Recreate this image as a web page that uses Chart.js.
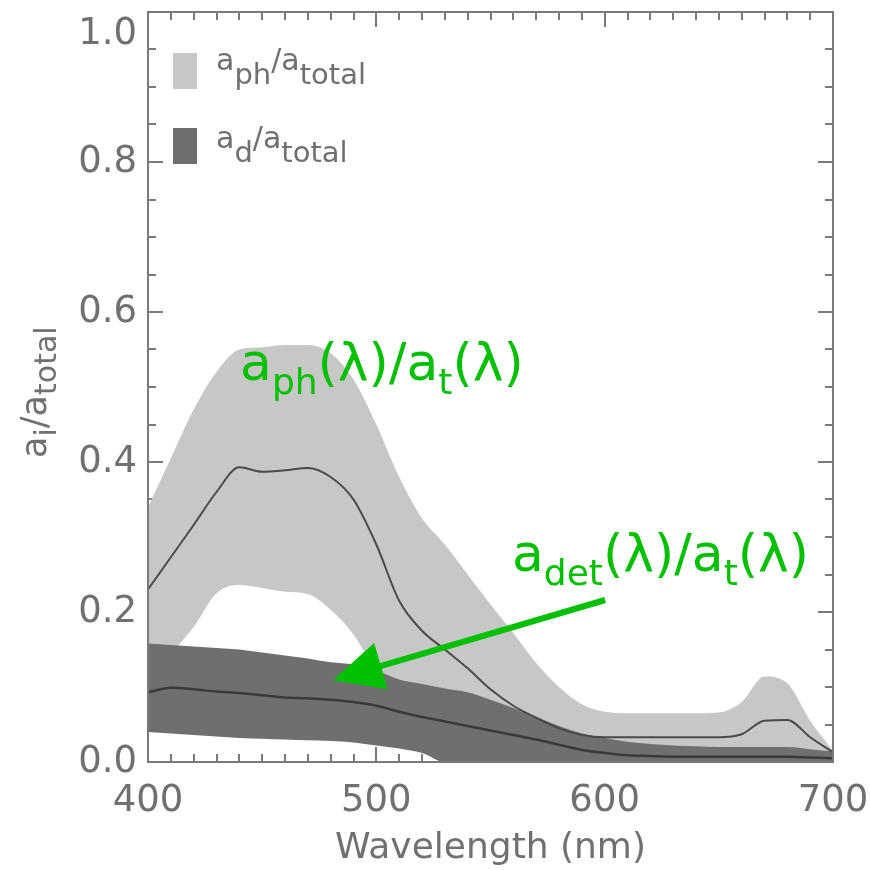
<!DOCTYPE html>
<html><head><meta charset="utf-8">
<script src="https://cdn.jsdelivr.net/npm/chart.js@4/dist/chart.umd.min.js"></script>
<style>html,body{margin:0;padding:0;background:#fff}#wrap{width:870px;height:870px}</style>
</head><body><div id="wrap"><canvas id="c" width="870" height="870"></canvas></div>
<script>
// ---- data ----
const wavelength = [400,410,420,430,440,450,460,470,480,490,500,510,520,530,540,550,560,570,580,590,600,610,620,630,640,650,660,670,680,690,700];
const phUpper  = [0.34,0.405,0.47,0.52,0.55,0.553,0.556,0.556,0.545,0.51,0.45,0.38,0.325,0.29,0.25,0.21,0.172,0.132,0.10,0.077,0.067,0.065,0.065,0.065,0.065,0.066,0.08,0.114,0.105,0.055,0.015];
const phLower  = [0.12,0.145,0.18,0.225,0.236,0.232,0.227,0.224,0.203,0.17,0.12,0.08,0.05,0.03,0.02,0.01,0.005,0,0,0,0,0,0,0,0,0,0,0,0,0,0];
const phMean   = [0.23,0.273,0.316,0.36,0.393,0.387,0.389,0.392,0.38,0.35,0.29,0.215,0.175,0.15,0.125,0.097,0.075,0.059,0.045,0.036,0.033,0.033,0.033,0.033,0.033,0.033,0.037,0.055,0.056,0.033,0.013];
const detUpper = [0.158,0.156,0.154,0.152,0.15,0.146,0.142,0.138,0.133,0.13,0.122,0.11,0.104,0.098,0.093,0.083,0.072,0.06,0.048,0.038,0.032,0.027,0.024,0.022,0.021,0.02,0.02,0.02,0.02,0.017,0.014];
const detLower = [0.04,0.038,0.036,0.034,0.032,0.031,0.03,0.029,0.028,0.026,0.022,0.018,0.012,0,0,0,0,0,0,0,0,0,0,0,0,0,0,0,0,0,0];
const detMean  = [0.093,0.099,0.097,0.094,0.092,0.089,0.086,0.085,0.083,0.08,0.075,0.067,0.06,0.054,0.048,0.042,0.036,0.03,0.023,0.016,0.012,0.009,0.008,0.007,0.007,0.007,0.007,0.007,0.007,0.006,0.005];
const xTickValues = [400,500,600,700];
const xTickLabels = ['400','500','600','700'];
const yTickValues = [0,0.2,0.4,0.6,0.8,1.0];
const yTickLabels = ['0.0','0.2','0.4','0.6','0.8','1.0'];
const xTitle = 'Wavelength (nm)';
const yTitleParts = [['a',0],['i',1],['/',0],['a',0],['total',1]];
const legendPh = [['a',0],['ph',1],['/',0],['a',0],['total',1]];
const legendDet = [['a',0],['d',1],['/',0],['a',0],['total',1]];
const annotPh = [['a',0],['ph',1],['(λ)/a',0],['t',1],['(λ)',0]];
const annotDet = [['a',0],['det',1],['(λ)/a',0],['t',1],['(λ)',0]];

const pts = arr => arr.map((v,i)=>({x: wavelength[i], y: v}));

const LIGHT = '#c7c7c7', DARK = '#6f6f6f', AXIS = '#7a7a7a', TXT = '#707070', GREEN = '#00c000';
const FONT = 'DejaVu Sans';

function drawParts(ctx, parts, x, y, mainSize, subSize, subDy){
  let cx = x;
  for (const [t, sub] of parts){
    ctx.font = (sub ? subSize : mainSize) + 'px "' + FONT + '"';
    ctx.fillText(t, cx, y + (sub ? subDy : 0));
    cx += ctx.measureText(t).width;
  }
  return cx;
}

const ticksPlugin = {
  id: 'frameTicks',
  beforeDatasetsDraw(chart){
    const {ctx, chartArea: a, scales: {x, y}} = chart;
    ctx.save();
    ctx.strokeStyle = AXIS; ctx.lineWidth = 2;
    ctx.beginPath();
    for (let v = 400; v <= 700; v += 10){
      const px = Math.round(x.getPixelForValue(v));
      const L = (v % 100 === 0) ? 15 : 8;
      ctx.moveTo(px, a.bottom); ctx.lineTo(px, a.bottom - L);
      ctx.moveTo(px, a.top); ctx.lineTo(px, a.top + L);
    }
    for (let i = 0; i <= 20; i++){
      const py = Math.round(y.getPixelForValue(i * 0.05));
      const L = (i % 4 === 0) ? 15 : 8;
      ctx.moveTo(a.left, py); ctx.lineTo(a.left + L, py);
      ctx.moveTo(a.right, py); ctx.lineTo(a.right - L, py);
    }
    ctx.stroke();
    ctx.restore();
  },
  afterDatasetsDraw(chart){
    const {ctx, chartArea: a} = chart;
    ctx.save();
    ctx.strokeStyle = AXIS; ctx.lineWidth = 2;
    ctx.strokeRect(a.left, a.top, a.right - a.left, a.bottom - a.top);
    ctx.restore();
  },
  afterDraw(chart){
    const {ctx, chartArea: a, scales: {x, y}} = chart;
    ctx.save();
    // legend
    ctx.fillStyle = LIGHT; ctx.fillRect(a.left + 25, a.top + 41, 24, 36);
    ctx.fillStyle = DARK;  ctx.fillRect(a.left + 25, a.top + 116, 24, 36);
    ctx.fillStyle = TXT; ctx.textBaseline = 'alphabetic'; ctx.textAlign = 'left';
    drawParts(ctx, legendPh, a.left + 68, a.top + 58, 30, 29, 14);
    drawParts(ctx, legendDet, a.left + 68, a.top + 136, 30, 29, 14);
    // y title (rotated)
    ctx.save();
    ctx.translate(46, 458);
    ctx.rotate(-Math.PI / 2);
    drawParts(ctx, yTitleParts, 0, 0, 35, 30, 10);
    ctx.restore();
    // green annotations
    ctx.fillStyle = GREEN;
    drawParts(ctx, annotPh, x.getPixelForValue(440.3), y.getPixelForValue(0.509), 52, 36, 14);
    drawParts(ctx, annotDet, x.getPixelForValue(559.4), y.getPixelForValue(0.255), 52, 36, 14);
    // arrow
    const x0 = x.getPixelForValue(600.2), y0 = y.getPixelForValue(0.216);
    const x1 = x.getPixelForValue(481), y1 = y.getPixelForValue(0.109);
    const dx = x1 - x0, dy = y1 - y0, len = Math.hypot(dx, dy);
    const ux = dx / len, uy = dy / len, head = 50, hw = 24;
    const bx = x1 - ux * head, by = y1 - uy * head;
    ctx.strokeStyle = GREEN; ctx.lineWidth = 6;
    ctx.beginPath(); ctx.moveTo(x0, y0); ctx.lineTo(bx + ux * 4, by + uy * 4); ctx.stroke();
    ctx.beginPath();
    ctx.moveTo(x1, y1);
    ctx.lineTo(bx - uy * hw, by + ux * hw);
    ctx.lineTo(bx + uy * hw, by - ux * hw);
    ctx.closePath(); ctx.fill();
    ctx.restore();
  }
};

const common = {pointRadius: 0, pointHoverRadius: 0, cubicInterpolationMode: 'monotone'};

new Chart(document.getElementById('c'), {
  type: 'line',
  data: {
    datasets: [
      {label: 'a_ph mean', data: pts(phMean), borderColor: '#4a4a4a', borderWidth: 2, fill: false, ...common},
      {label: 'a_det mean', data: pts(detMean), borderColor: '#3a3a3a', borderWidth: 2.5, fill: false, ...common},
      {label: 'a_det upper', data: pts(detUpper), borderWidth: 0, borderColor: 'rgba(0,0,0,0)', backgroundColor: DARK, fill: '+1', ...common},
      {label: 'a_det lower', data: pts(detLower), borderWidth: 0, borderColor: 'rgba(0,0,0,0)', fill: false, ...common},
      {label: 'a_ph upper', data: pts(phUpper), borderWidth: 0, borderColor: 'rgba(0,0,0,0)', backgroundColor: LIGHT, fill: '+1', ...common},
      {label: 'a_ph lower', data: pts(phLower), borderWidth: 0, borderColor: 'rgba(0,0,0,0)', fill: false, ...common}
    ]
  },
  options: {
    responsive: false,
    animation: false,
    devicePixelRatio: 1,
    layout: {padding: {top: 12, right: 37, bottom: 0, left: 0}},
    plugins: {legend: {display: false}, tooltip: {enabled: false}},
    scales: {
      x: {
        type: 'linear', min: 400, max: 700,
        afterBuildTicks: s => { s.ticks = xTickValues.map(v => ({value: v})); },
        afterFit: s => { s.height = 108; s.paddingLeft = 0; s.paddingRight = 0; },
        grid: {display: false, drawTicks: false},
        border: {display: false},
        ticks: {autoSkip: false, maxRotation: 0, padding: 17, color: TXT,
                font: {family: FONT, size: 37},
                callback: (v, i) => xTickLabels[i]},
        title: {display: true, text: xTitle, color: TXT, font: {family: FONT, size: 36}, padding: {top: 0, bottom: 0}}
      },
      y: {
        type: 'linear', min: 0, max: 1,
        afterBuildTicks: s => { s.ticks = yTickValues.map(v => ({value: v})); },
        afterFit: s => { s.width = 148; s.paddingTop = 0; s.paddingBottom = 0; },
        grid: {display: false, drawTicks: false},
        border: {display: false},
        ticks: {padding: 11, color: TXT, font: {family: FONT, size: 37},
                callback: (v, i) => (i === yTickLabels.length - 1 ? ['', yTickLabels[i]] : yTickLabels[i])}
      }
    }
  },
  plugins: [ticksPlugin]
});
</script>
</body></html>
